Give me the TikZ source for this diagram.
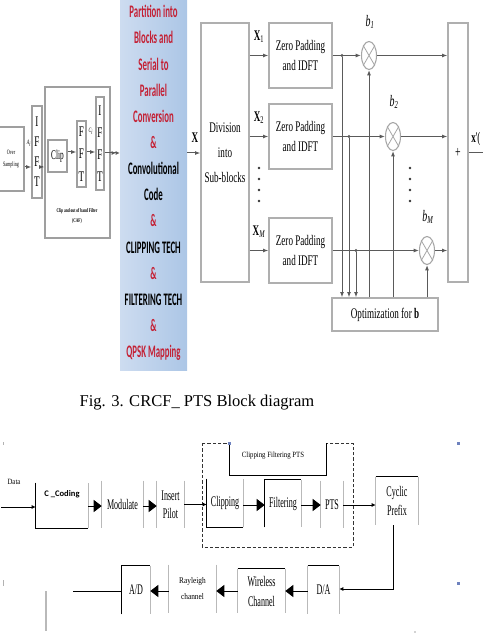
\documentclass[tikz,border=0pt]{standalone}
\usepackage{fontspec}
\setmainfont{Liberation Serif}
\newfontfamily\csA[FakeStretch=0.62]{Liberation Serif}
\newfontfamily\csB[FakeStretch=0.55]{Liberation Serif}
\newfontfamily\csC[FakeStretch=0.85]{Liberation Serif}
\newfontfamily\calA[FakeStretch=0.5]{Carlito}
\newfontfamily\calB{Carlito}
\usetikzlibrary{arrows.meta,shapes.geometric}
\definecolor{pred}{RGB}{196,32,52}
\definecolor{lgry}{RGB}{175,175,175}
\definecolor{dgry}{RGB}{90,90,90}
\definecolor{pl}{RGB}{205,220,240}
\definecolor{pm}{RGB}{226,234,246}
\definecolor{pr}{RGB}{172,198,230}
\definecolor{mkblue}{RGB}{110,130,190}
\begin{document}
\begin{tikzpicture}[x=0.75pt,y=-0.75pt,
 box/.style={draw=lgry,line width=1pt,inner sep=0pt,align=center},
 lbox/.style={draw=gray!75,line width=0.9pt,inner sep=0pt,align=center},
 conn/.style={draw=dgry,line width=0.75pt},
 arr/.style={conn,-{Latex[length=4pt,width=3pt]}},
 darr/.style={conn,-{Latex[length=3pt,width=3pt]Latex[length=3pt,width=3pt]}},
 mult/.style={ellipse,draw=gray!70,line width=0.8pt,minimum width=11.25pt,minimum height=21pt,inner sep=0pt},
 jdot/.style={circle,fill=dgry,inner sep=0pt,minimum size=2.6pt},
 vdot/.style={circle,fill=black!80,inner sep=0pt,minimum size=2pt},
 tlab/.style={font=\csA\fontsize{11}{15}\selectfont},
 bline/.style={draw=black,line width=0.75pt},
 gline/.style={draw=gray!55,line width=1.1pt},
 barr/.style={bline,-{Latex[length=3pt,width=3pt]}},
 tarr/.style={bline,-{Triangle[length=6pt,width=9pt]}},
 bnode/.style={inner sep=0pt,align=center,font=\csB\fontsize{11}{14}\selectfont},
]
\useasboundingbox (0,0) rectangle (482,634);

% ---------- top-left: clip and filter ----------
\node[lbox,minimum width=19.5pt,minimum height=48pt,font=\csA\fontsize{5}{9}\selectfont] (over) at (11,159) {Over\\Sampling};
\node[lbox,minimum width=7.5pt,minimum height=69pt,font=\csA\fontsize{11}{15}\selectfont] (ifftA) at (37,152) {I\\F\\F\\T};
\node[lbox,minimum width=48.75pt,minimum height=113.25pt] (caf) at (77.5,162.5) {};
\node[lbox,minimum width=14.25pt,minimum height=24pt,font=\csB\fontsize{10}{10}\selectfont] (clip) at (57.5,156) {Clip};
\node[lbox,minimum width=6.75pt,minimum height=49.5pt,font=\csA\fontsize{11}{17}\selectfont] (fft) at (81.5,154) {F\\F\\T};
\node[lbox,minimum width=6pt,minimum height=69.75pt,font=\csA\fontsize{11}{16.5}\selectfont] (ifftB) at (100,143.5) {I\\F\\F\\T};
\node[font=\csA\bfseries\fontsize{4.3}{7.5}\selectfont,align=center] (caflab) at (77,216) {Clip and out of band Filter\\(CAF)};
\node[font=\csA\itshape\fontsize{5}{5}\selectfont] (lai) at (29,143) {A\textsubscript{i}};
\node[font=\csA\itshape\fontsize{5}{5}\selectfont] (lci) at (91,131) {C\textsubscript{i}};

% ---------- blue panel ----------
\node[inner sep=0pt,minimum width=50.25pt,minimum height=278.25pt,left color=pl,middle color=pm,right color=pr] (panel) at (153.5,184.5) {};
\node[align=center,font=\calA\bfseries\fontsize{13.2}{19.6}\selectfont] (ptext) at (153.5,183) {%
\textcolor{pred}{Partition into}\\
\textcolor{pred}{Blocks and}\\
\textcolor{pred}{Serial to}\\
\textcolor{pred}{Parallel}\\
\textcolor{pred}{Conversion}\\
\textcolor{pred}{\&}\\
Convolutional\\
Code\\
\textcolor{pred}{\&}\\
CLIPPING TECH\\
\textcolor{pred}{\&}\\
FILTERING TECH\\
\textcolor{pred}{\&}\\
\textcolor{pred}{QPSK Mapping}};

\coordinate (r1) at (0,167);
\coordinate (r2) at (0,152);
\coordinate (r3) at (0,153);
\draw[arr] (over.east |- r1) -- (ifftA.west |- r1);
\draw[arr] (ifftA.east |- r1) -- (caf.west |- r1);
\draw[arr] (clip.east |- r2) -- (fft.west |- r2);
\draw[arr] (fft.east |- r2) -- (ifftB.west |- r2);
\draw[darr] (ifftB.east |- r3) -- (panel.west |- r3);

% ---------- top-right: PTS ----------
\node[box,align=center,minimum width=36pt,minimum height=194.25pt,font=\csA\fontsize{11}{18.75}\selectfont] (div) at (225,152.5) {Division\\into\\Sub-blocks};
\draw[arr] (panel.east |- r3) -- (div.west |- r3);
\node[font=\csA\bfseries\fontsize{11}{12}\selectfont] (lx) at (195,138) {X};

\node[box,tlab,minimum width=47.25pt,minimum height=48.75pt] (zp1) at (300.5,55.5) {Zero Padding\\and IDFT};
\node[box,tlab,minimum width=47.25pt,minimum height=48.75pt] (zp2) at (300.5,136.5) {Zero Padding\\and IDFT};
\node[box,tlab,minimum width=47.25pt,minimum height=48.75pt] (zp3) at (300.5,250.5) {Zero Padding\\and IDFT};
\draw[arr] (div.east |- zp1) -- (zp1);
\draw[arr] (div.east |- zp2) -- (zp2);
\draw[arr] (div.east |- zp3) -- (zp3);
\node[font=\csA\fontsize{11}{12}\selectfont] (lx1) at (259,37) {\textbf{X}\textsubscript{1}};
\node[font=\csA\fontsize{11}{12}\selectfont] (lx2) at (259,118) {\textbf{X}\textsubscript{2}};
\node[font=\csA\fontsize{11}{12}\selectfont] (lxm) at (259,232) {\textbf{X}\textsubscript{\itshape M}};

\node[mult] (m1) at (369,55.5) {};
\node[mult] (m2) at (393,136.5) {};
\node[mult] (m3) at (427,250.5) {};
\foreach \m in {m1,m2,m3}{\draw[gray!70,line width=0.6pt] (\m.60) -- (\m.240) (\m.120) -- (\m.300);}
\node[font=\csA\itshape\fontsize{12}{12}\selectfont] (lb1) at (370,22) {b\textsubscript{1}};
\node[font=\csA\itshape\fontsize{12}{12}\selectfont] (lb2) at (394,102) {b\textsubscript{2}};
\node[font=\csA\itshape\fontsize{12}{12}\selectfont] (lbm) at (428,217) {b\textsubscript{M}};

\node[box,tlab,minimum width=79.5pt,minimum height=24.75pt] (opt) at (385,314.5) {Optimization for \textbf{b}};
\node[box,minimum width=15pt,minimum height=194.25pt,font=\csA\fontsize{12}{12}\selectfont] (sum) at (458,152.5) {+};

\node[jdot] (j1) at (342,55.5) {};
\node[jdot] (j2) at (349,136.5) {};
\node[jdot] (j3) at (356,250.5) {};
\draw[arr] (zp1.east) -- (m1.west);
\draw[arr] (zp2.east) -- (m2.west);
\draw[arr] (zp3.east) -- (m3.west);
\draw[arr] (j1) -- (j1 |- opt.north);
\draw[arr] (j2) -- (j2 |- opt.north);
\draw[arr] (j3) -- (j3 |- opt.north);
\draw[arr] (opt.north -| m1) -- (m1.south);
\draw[arr] (opt.north -| m2) -- (m2.south);
\draw[arr] (opt.north -| m3) -- (m3.south);
\draw[arr] (m1.east) -- (sum.west |- m1);
\draw[arr] (m2.east) -- (sum.west |- m2);
\draw[arr] (m3.east) -- (sum.west |- m3);
\coordinate (xo) at (484,152.5);
\draw[conn] (sum.east) -- (xo);
\node[anchor=west,inner sep=0pt,font=\csA\fontsize{11}{12}\selectfont] (lxo) at (471,139) {\textbf{x}'(};

\foreach \y in {168,179,190,201}{
  \node[vdot] (dl\y) at (259,\y) {};
  \node[vdot] (dr\y) at (410,\y) {};
}

% ---------- caption ----------
\node[font=\fontsize{12.4}{14}\selectfont] (cap) at (197,403) {Fig. 3. CRCF\_ PTS Block diagram};

% ---------- bottom diagram ----------
\draw[black!80,line width=0.6pt,dash pattern=on 2.5pt off 1.5pt] (202,443) rectangle (353,547);
\fill[white] (229.5,441) rectangle (325.5,474.5);
\draw[bline] (229,443) -- (229,475) -- (326,475) -- (326,443);
\node[font=\csC\fontsize{6}{7}\selectfont] (lbl) at (273,456) {Clipping Filtering PTS};

\node[bnode,minimum width=39pt,minimum height=33.75pt] (cc) at (62,505.5) {};
\node[font=\calB\bfseries\fontsize{6.4}{8}\selectfont] (cct) at (62,494) {C \_Coding};
\draw[bline] (cc.north west) -- (cc.south west) -- (cc.south east);
\draw[gline] (cc.south east) -- (cc.north east);

\node[bnode,minimum width=30.75pt,minimum height=35.25pt] (mod) at (122.5,504.5) {Modulate};
\draw[gline] (mod.north west) -- (mod.south west) (mod.north east) -- (mod.south east);

\node[bnode,minimum width=20.25pt,minimum height=35.25pt,font=\csB\fontsize{11}{13.5}\selectfont] (pil) at (170.5,504.5) {Insert\\Pilot};
\draw[gline] (pil.north west) -- (pil.south west) (pil.north east) -- (pil.south east);

\node[bnode,minimum width=27pt,minimum height=36pt] (clp) at (225,503) {Clipping};
\draw[bline] (clp.north west) -- (clp.south west) -- (clp.south east);
\draw[gline] (clp.south east) -- (clp.north east);

\node[bnode,minimum width=27pt,minimum height=35.25pt] (flt) at (283,503.5) {Filtering};
\draw[bline] (flt.south west) -- (flt.north west) -- (flt.north east);
\draw[gline] (flt.north east) -- (flt.south east);

\node[bnode,minimum width=16.5pt,minimum height=35.25pt] (pts) at (332,504.5) {PTS};
\draw[gline] (pts.north west) -- (pts.south west) (pts.north east) -- (pts.south east);

\node[bnode,minimum width=31.5pt,minimum height=36pt] (cyc) at (397,501) {Cyclic\\Prefix};
\draw[bline] (cyc.north west) -- (cyc.north east);
\draw[gline] (cyc.north west) -- (cyc.south west) (cyc.north east) -- (cyc.south east);

\node[bnode,minimum width=23.25pt,minimum height=36pt] (da) at (323.5,590) {D/A};
\draw[bline] (da.north west) -- (da.north east);
\draw[gline] (da.north west) -- (da.south west) (da.north east) -- (da.south east);

\node[bnode,minimum width=35.25pt,minimum height=33pt,font=\csB\fontsize{11}{15}\selectfont] (wc) at (261.5,591) {Wireless\\Channel};
\draw[bline] (wc.north west) -- (wc.north east);
\draw[gline] (wc.north west) -- (wc.south west) (wc.north east) -- (wc.south east);

\node[bnode,minimum width=35.25pt,minimum height=36pt,font=\csC\fontsize{6.5}{12}\selectfont] (ray) at (192.5,589) {Rayleigh\\channel};
\draw[gline] (ray.north west) -- (ray.south west) (ray.north east) -- (ray.south east);

\node[bnode,minimum width=21pt,minimum height=36pt] (ad) at (136,590) {A/D};
\draw[bline] (ad.south west) -- (ad.north west) -- (ad.north east);
\draw[gline] (ad.north east) -- (ad.south east);

\node[font=\csC\fontsize{6}{7}\selectfont] (ldata) at (14,482) {Data};
\coordinate (din) at (1,507);
\draw[barr] (din) -- (cc.west |- din);
\coordinate (rA) at (0,506);
\draw[tarr] (cc.east |- rA) -- (mod.west |- rA);
\draw[tarr] (mod.east |- rA) -- (pil.west |- rA);
\coordinate (rB) at (0,504.5);
\draw[barr] (pil.east |- rB) -- (clp.west |- rB);
\coordinate (rC) at (0,505);
\draw[tarr] (clp.east |- rC) -- (flt.west |- rC);
\draw[tarr] (flt.east |- rC) -- (pts.west |- rC);
\draw[barr] (pts.east |- rC) -- (cyc.west |- rC);
\coordinate (c1) at (393,589);
\draw[barr] (c1 |- cyc.south) -- (c1) -- (da.east |- c1);
\coordinate (rD) at (0,591);
\draw[tarr] (da.west |- rD) -- (wc.east |- rD);
\draw[tarr] (wc.west |- rD) -- (ray.east |- rD);
\draw[tarr] (ray.west |- rD) -- (ad.east |- rD);
\coordinate (dout) at (73,591);
\draw[bline] (ad.west |- rD) -- (dout);
\coordinate (va) at (46,591);
\coordinate (vb) at (46,631);
\draw[gline] (va) -- (vb);

% small marks
\fill[mkblue] (227.5,441.5) rectangle (230.5,444.5);
\fill[mkblue] (456.5,441.5) rectangle (459.5,444.5);
\fill[mkblue] (456.5,581.5) rectangle (459.5,584.5);
\draw[gray!60,line width=0.5pt] (3,580) -- (3,586);
\draw[gray!60,line width=0.5pt] (3,442) -- (3,445);
\fill[gray!70] (415,632) circle (0.8);
\end{tikzpicture}
\end{document}
